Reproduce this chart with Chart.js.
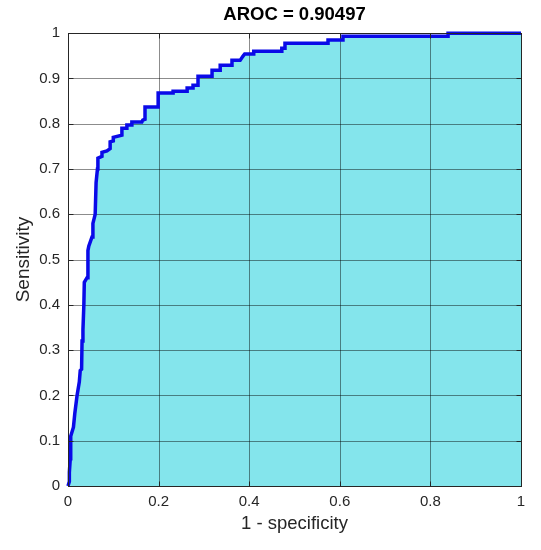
<!DOCTYPE html>
<html>
<head>
<meta charset="utf-8">
<script src="https://cdn.jsdelivr.net/npm/chart.js@4/dist/chart.umd.min.js"></script>
<style>
html,body{margin:0;padding:0;background:#fff;}
#wrap{width:541px;height:550px;}
</style>
</head>
<body>
<div id="wrap"><canvas id="c" width="541" height="550"></canvas></div>
<script>
const chartTitle = 'AROC = 0.90497';
const xLabel = '1 - specificity';
const yLabel = 'Sensitivity';
const xTicks = [0, 0.2, 0.4, 0.6, 0.8, 1];
const yTicks = [0, 0.1, 0.2, 0.3, 0.4, 0.5, 0.6, 0.7, 0.8, 0.9, 1];
const fpr = [0,0.003,0.003,0.005,0.006,0.012,0.015,0.02,0.025,0.027,0.03,0.031,0.033,0.035,0.036,0.042,0.044,0.046,0.053,0.055,0.06,0.062,0.065,0.066,0.075,0.075,0.086,0.093,0.093,0.10,0.10,0.119,0.119,0.13,0.13,0.141,0.141,0.163,0.165,0.17,0.17,0.199,0.199,0.232,0.232,0.263,0.263,0.276,0.276,0.287,0.287,0.318,0.318,0.336,0.336,0.362,0.362,0.38,0.386,0.39,0.41,0.41,0.472,0.472,0.479,0.479,0.574,0.574,0.607,0.607,0.839,0.839,1];
const tpr = [0,0.01,0.03,0.06,0.11,0.13,0.16,0.2,0.23,0.255,0.258,0.32,0.345,0.40,0.45,0.46,0.52,0.53,0.55,0.58,0.60,0.67,0.70,0.724,0.728,0.737,0.74,0.745,0.76,0.762,0.77,0.775,0.79,0.79,0.797,0.797,0.804,0.804,0.808,0.81,0.837,0.837,0.868,0.868,0.872,0.872,0.879,0.879,0.885,0.885,0.905,0.905,0.918,0.918,0.929,0.929,0.94,0.94,0.949,0.954,0.954,0.96,0.96,0.967,0.967,0.978,0.978,0.985,0.985,0.993,0.993,1.0,1];

const pts = fpr.map((x, i) => ({x: x, y: tpr[i]}));
const AX = '#262626';
const FONT = "'Liberation Sans', Arial, Helvetica, sans-serif";

const gridPlugin = {
  id: 'gridOver',
  afterDatasetDraw(chart, args) {
    if (args.index !== 0) return;
    const ctx = chart.ctx, a = chart.chartArea;
    const xs = chart.scales.x, ys = chart.scales.y;
    ctx.save();
    ctx.lineWidth = 1;
    ctx.strokeStyle = 'rgba(0,0,0,0.45)';
    xTicks.forEach(v => {
      if (v <= 0 || v >= 1) return;
      const px = Math.round(xs.getPixelForValue(v)) + 0.5;
      ctx.beginPath(); ctx.moveTo(px, a.top); ctx.lineTo(px, a.bottom); ctx.stroke();
    });
    yTicks.forEach(v => {
      if (v <= 0 || v >= 1) return;
      const py = Math.round(ys.getPixelForValue(v)) + 0.5;
      ctx.beginPath(); ctx.moveTo(a.left, py); ctx.lineTo(a.right, py); ctx.stroke();
    });
    ctx.restore();
  },
  afterDraw(chart) {
    const ctx = chart.ctx, a = chart.chartArea;
    const xs = chart.scales.x, ys = chart.scales.y;
    ctx.save();
    ctx.strokeStyle = AX;
    ctx.lineWidth = 1;
    const L = Math.round(a.left) + 0.5, R = Math.round(a.right) + 0.5;
    const T = Math.round(a.top) + 0.5, B = Math.round(a.bottom) + 0.5;
    ctx.strokeRect(L, T, R - L, B - T);
    const tl = 5;
    xTicks.forEach(v => {
      const px = Math.round(xs.getPixelForValue(v)) + 0.5;
      ctx.beginPath();
      ctx.moveTo(px, B); ctx.lineTo(px, B - tl);
      ctx.moveTo(px, T); ctx.lineTo(px, T + tl);
      ctx.stroke();
    });
    yTicks.forEach(v => {
      const py = Math.round(ys.getPixelForValue(v)) + 0.5;
      ctx.beginPath();
      ctx.moveTo(L, py); ctx.lineTo(L + tl, py);
      ctx.moveTo(R, py); ctx.lineTo(R - tl, py);
      ctx.stroke();
    });
    ctx.restore();
  }
};

new Chart(document.getElementById('c'), {
  type: 'scatter',
  data: {
    datasets: [
      {
        data: pts,
        showLine: true,
        borderWidth: 0,
        borderColor: 'rgba(0,0,0,0)',
        backgroundColor: '#84e5ec',
        fill: 'origin',
        pointRadius: 0,
        tension: 0,
        order: 2
      },
      {
        data: pts,
        showLine: true,
        borderWidth: 3.5,
        borderColor: '#0a0ae8',
        fill: false,
        pointRadius: 0,
        tension: 0,
        clip: false,
        borderJoinStyle: 'miter',
        order: 1
      }
    ]
  },
  options: {
    responsive: false,
    animation: false,
    events: [],
    layout: { padding: { left: 12, right: 20, top: 0, bottom: 15 } },
    plugins: {
      legend: { display: false },
      tooltip: { enabled: false },
      title: {
        display: true,
        fullSize: false,
        text: chartTitle,
        color: '#000',
        font: { family: FONT, size: 18.5, weight: 'bold', lineHeight: 1.2 },
        padding: { top: 4, bottom: 7 }
      }
    },
    scales: {
      x: {
        type: 'linear', min: 0, max: 1,
        afterFit(s) { s.height = 49; },
        afterBuildTicks(s) { s.ticks = xTicks.map(v => ({value: v})); },
        grid: { display: false, drawTicks: false },
        border: { display: false },
        ticks: {
          color: AX, padding: 7, maxRotation: 0, autoSkip: false,
          font: { family: FONT, size: 15 },
          callback: v => String(v)
        },
        title: {
          display: true, text: xLabel, color: AX,
          font: { family: FONT, size: 18.5 },
          padding: { top: 2, bottom: 0 }
        }
      },
      y: {
        type: 'linear', min: 0, max: 1,
        afterFit(s) { s.width = 56; },
        afterBuildTicks(s) { s.ticks = yTicks.map(v => ({value: v})); },
        grid: { display: false, drawTicks: false },
        border: { display: false },
        ticks: {
          color: AX, padding: 8, autoSkip: false,
          font: { family: FONT, size: 15 },
          callback: v => String(v)
        },
        title: {
          display: true, text: yLabel, color: AX,
          font: { family: FONT, size: 19 },
          padding: { top: 0, bottom: 4 }
        }
      }
    }
  },
  plugins: [gridPlugin]
});
</script>
</body>
</html>
